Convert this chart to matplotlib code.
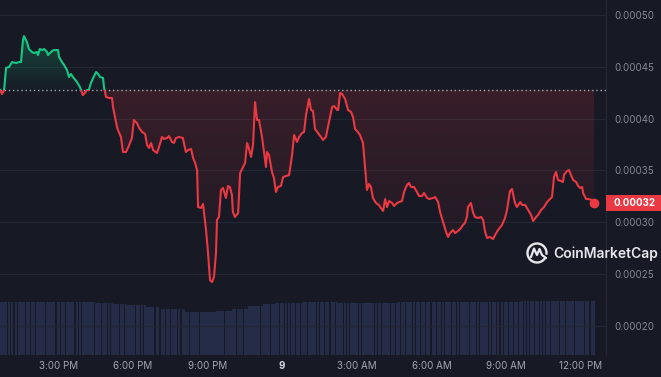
import numpy as np
import matplotlib
matplotlib.use("Agg")
import matplotlib.pyplot as plt
from matplotlib.path import Path
from matplotlib.patches import Rectangle, Arc
from matplotlib.colors import to_rgb
from matplotlib.transforms import blended_transform_factory

# ---------------- data ----------------
# time in hours since 12:00 PM of day 1
hours = [
    0.66, 0.74, 0.82, 0.90, 1.02, 1.14, 1.30, 1.42, 1.50, 1.58, 1.62, 1.74, 1.82, 1.94, 2.02,
    2.14, 2.18, 2.26, 2.35, 2.43, 2.55, 2.59, 2.67, 2.75, 2.83, 2.99, 3.03, 3.15, 3.23, 3.35,
    3.43, 3.51, 3.59, 3.75, 3.87, 3.99, 4.07, 4.15, 4.23, 4.31, 4.40, 4.52, 4.60, 4.68, 4.80,
    4.84, 4.92, 5.04, 5.16, 5.20, 5.28, 5.36, 5.40, 5.52, 5.60, 5.72, 5.80, 5.88, 5.96, 6.04,
    6.16, 6.25, 6.37, 6.49, 6.57, 6.65, 6.73, 6.81, 6.97, 7.01, 7.17, 7.25, 7.37, 7.45, 7.57,
    7.65, 7.73, 7.85, 8.01, 8.05, 8.13, 8.22, 8.34, 8.42, 8.50, 8.58, 8.62, 8.74, 8.82, 8.86,
    8.94, 9.02, 9.10, 9.18, 9.26, 9.34, 9.38, 9.46, 9.54, 9.62, 9.74, 9.82, 9.90, 9.98, 10.02,
    10.10, 10.23, 10.31, 10.39, 10.51, 10.59, 10.67, 10.75, 10.83, 10.91, 10.99, 11.07, 11.19, 11.27, 11.35,
    11.39, 11.47, 11.59, 11.67, 11.75, 11.83, 11.95, 12.04, 12.16, 12.28, 12.40, 12.48, 12.60, 12.68, 12.80,
    12.88, 12.96, 13.08, 13.16, 13.24, 13.32, 13.44, 13.56, 13.64, 13.76, 13.84, 14.01, 14.09, 14.21, 14.25,
    14.33, 14.41, 14.53, 14.65, 14.77, 14.85, 14.93, 15.01, 15.13, 15.25, 15.33, 15.41, 15.49, 15.57, 15.65,
    15.77, 15.89, 15.94, 16.06, 16.14, 16.22, 16.30, 16.42, 16.50, 16.62, 16.70, 16.82, 16.90, 17.02, 17.10,
    17.18, 17.30, 17.42, 17.50, 17.62, 17.70, 17.83, 17.91, 18.07, 18.15, 18.27, 18.35, 18.47, 18.59, 18.67,
    18.75, 18.87, 18.95, 19.07, 19.19, 19.27, 19.35, 19.43, 19.47, 19.59, 19.67, 19.75, 19.88, 20.00, 20.08,
    20.16, 20.24, 20.36, 20.48, 20.56, 20.68, 20.84, 20.96, 21.04, 21.16, 21.24, 21.36, 21.44, 21.57, 21.65,
    21.77, 21.89, 22.01, 22.09, 22.21, 22.29, 22.41, 22.53, 22.65, 22.73, 22.85, 22.93, 23.01, 23.09, 23.21,
    23.29, 23.33, 23.45, 23.53, 23.61, 23.70, 23.82, 23.90, 23.98, 24.06, 24.10, 24.22, 24.30, 24.46, 24.54,
]

# price in units of 1e-5 USD
price_e5 = [
    42.76, 42.38, 42.76, 44.89, 44.98, 45.46, 45.37, 45.46, 45.46, 47.59, 47.97, 47.39, 46.72, 46.43, 46.33,
    46.43, 46.14, 46.72, 46.62, 46.72, 46.43, 46.14, 46.33, 46.53, 46.62, 46.62, 45.95, 45.46, 45.18, 44.69,
    44.02, 44.31, 44.02, 43.54, 43.05, 42.28, 42.47, 42.76, 42.76, 43.44, 43.92, 44.50, 44.31, 44.02, 43.92,
    42.96, 42.09, 41.99, 41.99, 41.12, 40.16, 39.19, 38.90, 38.23, 36.78, 36.78, 37.17, 37.65, 38.13, 39.87,
    39.58, 39.10, 38.71, 38.52, 37.45, 37.17, 37.65, 36.97, 36.68, 36.97, 38.23, 38.04, 38.13, 38.32, 37.75,
    37.65, 38.13, 38.23, 38.13, 37.65, 36.78, 36.97, 37.07, 36.20, 35.72, 35.04, 31.47, 31.38, 31.76, 30.89,
    29.25, 27.03, 24.43, 24.23, 24.72, 27.03, 30.22, 30.51, 33.11, 33.31, 32.34, 33.50, 33.40, 32.63, 30.99,
    30.51, 30.89, 34.75, 35.14, 35.72, 37.65, 37.07, 36.30, 37.45, 41.60, 39.87, 39.87, 38.23, 36.78, 35.33,
    36.78, 36.49, 34.85, 34.27, 32.92, 33.40, 33.50, 34.37, 34.47, 34.56, 36.49, 38.42, 37.75, 38.23, 38.61,
    38.71, 40.35, 41.89, 40.83, 40.74, 39.00, 38.61, 38.23, 37.94, 38.23, 39.19, 41.12, 41.22, 40.83, 40.83,
    42.47, 42.38, 41.89, 40.83, 40.64, 40.16, 39.00, 38.81, 38.42, 37.65, 35.33, 33.11, 33.69, 33.40, 32.34,
    31.86, 31.67, 31.47, 31.09, 32.24, 31.47, 32.05, 31.86, 31.57, 31.86, 31.95, 32.05, 32.92, 33.60, 33.79,
    33.40, 33.40, 32.92, 32.53, 32.53, 32.82, 32.34, 32.24, 32.34, 32.44, 31.95, 30.99, 30.02, 29.06, 28.58,
    28.96, 29.25, 28.96, 29.16, 29.45, 29.74, 29.93, 30.51, 31.47, 31.86, 30.99, 30.51, 30.41, 30.51, 30.22,
    29.06, 28.48, 28.58, 28.38, 28.77, 29.25, 29.74, 30.41, 31.18, 33.02, 33.21, 31.86, 31.47, 31.95, 31.67,
    31.67, 31.18, 30.70, 30.12, 30.51, 30.70, 31.18, 31.47, 31.95, 32.15, 32.44, 34.37, 34.85, 34.08, 33.98,
    33.88, 34.56, 34.95, 35.04, 34.56, 34.08, 33.88, 33.50, 33.31, 33.40, 32.82, 32.24, 32.24, 32.15, 31.86,
]

# relative volume (bars at the bottom)
volume = [
    100, 100, 100, 100, 100, 100, 100, 100, 100, 100, 100, 100, 100, 100, 100,
    100, 100, 100, 100, 100, 100, 100, 100, 100, 100, 100, 100, 100, 100, 100,
    100, 100, 100, 100, 100, 100, 100, 100, 100, 100, 100, 99, 99, 99, 99,
    99, 99, 99, 99, 97, 97, 97, 97, 97, 97, 97, 94, 94, 94, 94,
    94, 94, 94, 94, 91, 91, 91, 91, 91, 91, 86, 86, 86, 86, 86,
    86, 86, 86, 86, 86, 82, 82, 82, 82, 82, 82, 82, 82, 81, 81,
    81, 81, 81, 81, 81, 81, 83, 83, 83, 83, 83, 83, 83, 83, 87,
    87, 87, 87, 87, 87, 87, 92, 92, 92, 92, 92, 92, 92, 96, 96,
    96, 96, 96, 96, 99, 99, 99, 99, 99, 99, 99, 99, 99, 99, 99,
    100, 100, 100, 100, 100, 100, 100, 100, 100, 100, 100, 100, 100, 100, 99,
    99, 99, 99, 99, 99, 99, 99, 99, 99, 99, 99, 99, 99, 99, 99,
    99, 99, 99, 99, 99, 99, 99, 99, 99, 99, 100, 100, 100, 100, 100,
    100, 100, 100, 100, 100, 100, 100, 100, 100, 100, 100, 100, 100, 100, 100,
    100, 100, 100, 100, 100, 100, 100, 100, 100, 100, 100, 100, 100, 100, 100,
    100, 100, 100, 100, 100, 100, 100, 100, 100, 100, 100, 100, 100, 100, 101,
    101, 101, 101, 101, 101, 101, 101, 101, 101, 101, 101, 101, 101, 101, 101,
    101, 101, 101, 101, 101, 101, 101, 101, 101, 101, 101, 101, 101, 101, 101,
]

x_ticks = [3, 6, 9, 12, 15, 18, 21, 24]
x_labels = ["3:00 PM", "6:00 PM", "9:00 PM", "9", "3:00 AM", "6:00 AM", "9:00 AM", "12:00 PM"]
y_ticks = [0.00020, 0.00025, 0.00030, 0.00035, 0.00040, 0.00045, 0.00050]
y_labels = ["0.00020", "0.00025", "0.00030", "0.00035", "0.00040", "0.00045", "0.00050"]
last_label = "0.00032"
brand = "CoinMarketCap"

# ---------------- style ----------------
BG = "#171924"
GREEN = "#16c784"
RED = "#ea3943"
GRID = "#232633"
W, H = 661, 377
plt.rcParams["font.family"] = ["Inter", "DejaVu Sans"]

t = np.array(hours)
p = np.array(price_e5) * 1e-5
v = np.array(volume)
base = p[0]

fig = plt.figure(figsize=(W / 100, H / 100), dpi=100, facecolor=BG)
rect = [0, 22 / H, 606 / W, 355 / H]
vax = fig.add_axes(rect)
vax.set_facecolor(BG)
ax = fig.add_axes(rect, sharex=vax)
ax.patch.set_alpha(0)

XMIN, XMAX = 0.656, 25.02
YMIN, YMAX = 0.0001719, 0.0005145

# volume bars
vax.bar(t, v, width=0.085, color="#252c47", linewidth=0, align="center")
vax.set_ylim(0, 670)
vax.axis("off")

# gradient fills
def gradient_fill(where_mask, y0, y1, a0, a1, color):
    fb = ax.fill_between(t, p, base, where=where_mask, interpolate=True,
                         facecolor="none", edgecolor="none")
    cp = Path.make_compound_path(*fb.get_paths())
    fb.remove()
    arr = np.zeros((256, 1, 4))
    arr[:, :, :3] = to_rgb(color)
    arr[:, 0, 3] = np.linspace(a0, a1, 256)
    im = ax.imshow(arr, extent=(XMIN, XMAX, y0, y1), origin="lower",
                   aspect="auto", interpolation="bilinear", zorder=1)
    im.set_clip_path(cp, ax.transData)

gradient_fill(p >= base, base, p.max(), 0.02, 0.28, GREEN)
gradient_fill(p <= base, p.min(), base, 0.02, 0.16, RED)

# line split at baseline
lg, = ax.plot(t, p, color=GREEN, lw=1.5, zorder=4, solid_joinstyle="round")
lr, = ax.plot(t, p, color=RED, lw=1.5, zorder=4, solid_joinstyle="round")
lg.set_clip_path(Rectangle((XMIN - 1, base), 40, 1, transform=ax.transData))
lr.set_clip_path(Rectangle((XMIN - 1, base - 1), 40, 1, transform=ax.transData))

# baseline dotted
ax.axhline(base, color="#a4a8b2", lw=1.0, ls=(0, (1, 2)), zorder=3)

# last point
ax.plot(t[-1], p[-1], "o", color=RED, ms=6, zorder=6, clip_on=False)

ax.set_xlim(XMIN, XMAX)
ax.set_ylim(YMIN, YMAX)

# axes styling
ax.set_yticks(y_ticks)
ax.set_yticklabels(y_labels)
ax.yaxis.tick_right()
ax.set_xticks(x_ticks)
ax.set_xticklabels(x_labels)
ax.tick_params(axis="y", length=0, pad=5.8, labelsize=7, labelcolor="#858a96")
ax.tick_params(axis="x", length=0, pad=4, labelsize=7, labelcolor="#a3a8b4")
xl = ax.get_xticklabels()
xl[3].set_color("#d4d7de")
xl[3].set_fontweight("bold")
ax.grid(axis="y", color=GRID, lw=0.8)
ax.set_axisbelow(True)
for s in ["top", "left", "bottom"]:
    ax.spines[s].set_visible(False)
ax.spines["right"].set_color(GRID)
ax.spines["right"].set_linewidth(0.8)

# price tag
tr = blended_transform_factory(ax.transAxes, ax.transData)
tag_h = (YMAX - YMIN) / 355 * 16
ax.add_patch(Rectangle((1.0, p[-1] - tag_h / 2), 55 / 606, tag_h, transform=tr,
                       facecolor=RED, edgecolor="none", clip_on=False, zorder=7))
ax.text(1 + 8 / 606, p[-1], last_label, transform=tr, color="white", fontsize=7,
        fontweight="bold", va="center", ha="left", zorder=8, clip_on=False)

# brand logo overlay
ov = fig.add_axes([0, 0, 1, 1])
ov.set_xlim(0, W)
ov.set_ylim(H, 0)
ov.axis("off")
ov.patch.set_alpha(0)
ov.add_patch(Arc((537, 253), 19, 19, theta1=-330, theta2=10, color="#e6e8ec", lw=1.7))
ov.plot([531, 534, 537, 539.5, 542, 546], [257, 248.5, 255, 249, 255, 258],
        color="#e6e8ec", lw=1.6, solid_joinstyle="round", solid_capstyle="round")
ov.text(553, 253.5, brand, color="#e6e8ec", fontsize=10, fontweight="semibold",
        va="center", ha="left")

fig.savefig("out.png", dpi=100, facecolor=BG)
